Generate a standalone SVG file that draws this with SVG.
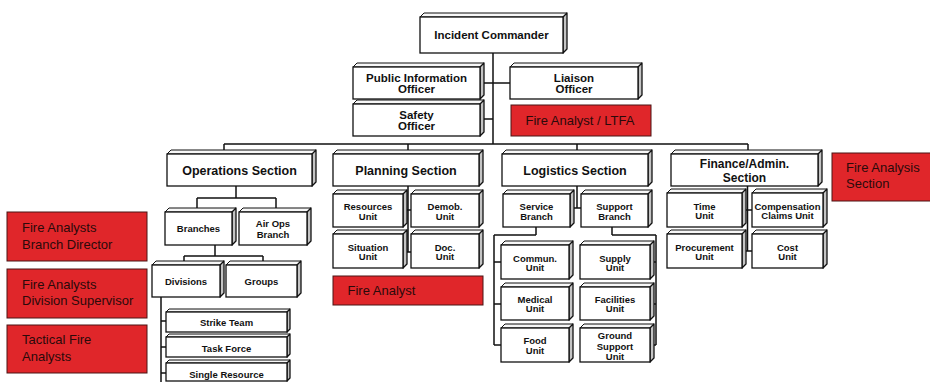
<svg xmlns="http://www.w3.org/2000/svg" width="930" height="382" viewBox="0 0 930 382">
<style>
.top{fill:#f7f7f7;stroke:#111;stroke-width:1;stroke-linejoin:round}
.side{fill:#c4c4c4;stroke:#111;stroke-width:1.3;stroke-linejoin:round}
.face{fill:#fff;stroke:#111;stroke-width:1.3}
.red{fill:#e0262a;stroke:#4a1414;stroke-width:1}
.t{font-family:"Liberation Sans",Arial,sans-serif;font-weight:bold;fill:#111;text-anchor:middle}
.s1{font-size:12.5px}
.s2{font-size:11.5px}
.s3{font-size:9.5px}
.rt{font-family:"Liberation Sans",Arial,sans-serif;font-size:13px;fill:#2b0a0a}
.c{fill:none;stroke:#111;stroke-width:1.5}
</style>
<rect width="930" height="382" fill="#fff"/>
<g id="connectors">
<path class="c" d="M493,53V144M480,83H510M480,119H493M224,144H748M224,144V150M408,144V150M577,144V150M748,144V150"/>
<path class="c" d="M236,186V198M197,198H276M197,198V208M276,198V208M215,245V256M184,256H263M184,256V261M263,256V261M161,297V382M161,321H166M161,347H166M161,373H166"/>
<path class="c" d="M408,186V252M403,210H411M403,252H411"/>
<path class="c" d="M577,186V208M570,208H581M536,227V235M494,235H536M494,235V345M494,262H501M494,304H501M494,345H501M612,227V235M612,235H656M656,235V345M650,262H656M650,304H656M650,345H656"/>
<path class="c" d="M747.5,186V251M742,210H752M742,251H752"/>
</g>
<g id="incident-commander"><polygon class="top" points="420,17 424,13 567,13 563,17"/><polygon class="side" points="563,17 567,13 567,49 563,53"/><rect class="face" x="420" y="17" width="143" height="36"/><text class="t s2" x="491.5" y="39">Incident Commander</text></g>
<g id="public-information-officer"><polygon class="top" points="353,67 357,63 484,63 480,67"/><polygon class="side" points="480,67 484,63 484,95 480,99"/><rect class="face" x="353" y="67" width="127" height="32"/><text class="t s2" x="416.5" y="81.7">Public Information</text><text class="t s2" x="416.5" y="93.4">Officer</text></g>
<g id="liaison-officer"><polygon class="top" points="510,67 514,63 642,63 638,67"/><polygon class="side" points="638,67 642,63 642,95 638,99"/><rect class="face" x="510" y="67" width="128" height="32"/><text class="t s2" x="574" y="81.7">Liaison</text><text class="t s2" x="574" y="93.4">Officer</text></g>
<g id="safety-officer"><polygon class="top" points="353,104 357,100 484,100 480,104"/><polygon class="side" points="480,104 484,100 484,132 480,136"/><rect class="face" x="353" y="104" width="127" height="32"/><text class="t s2" x="416.5" y="118.7">Safety</text><text class="t s2" x="416.5" y="130.4">Officer</text></g>
<g id="fire-analyst-ltfa"><rect class="red" x="511" y="105" width="140" height="31"/><text class="rt" x="525.5" y="124.5">Fire Analyst / LTFA</text></g>
<g id="operations-section"><polygon class="top" points="167,154 171,150 316,150 312,154"/><polygon class="side" points="312,154 316,150 316,182 312,186"/><rect class="face" x="167" y="154" width="145" height="32"/><text class="t s1" x="239.5" y="175">Operations Section</text></g>
<g id="planning-section"><polygon class="top" points="333,154 337,150 483,150 479,154"/><polygon class="side" points="479,154 483,150 483,182 479,186"/><rect class="face" x="333" y="154" width="146" height="32"/><text class="t s1" x="406" y="175">Planning Section</text></g>
<g id="logistics-section"><polygon class="top" points="502,154 506,150 652,150 648,154"/><polygon class="side" points="648,154 652,150 652,182 648,186"/><rect class="face" x="502" y="154" width="146" height="32"/><text class="t s1" x="575" y="175">Logistics Section</text></g>
<g id="finance-admin-section"><polygon class="top" points="671,154 675,150 822,150 818,154"/><polygon class="side" points="818,154 822,150 822,182 818,186"/><rect class="face" x="671" y="154" width="147" height="32"/><text class="t" style="font-size:12px" x="744.5" y="168">Finance/Admin.</text><text class="t" style="font-size:12px" x="744.5" y="181.5">Section</text></g>
<g id="fire-analysis-section"><rect class="red" x="832" y="153" width="100" height="48"/><text class="rt" x="846" y="171.7">Fire Analysis</text><text class="rt" x="846" y="188.3">Section</text></g>
<g id="branches"><polygon class="top" points="165,212 169,208 236,208 232,212"/><polygon class="side" points="232,212 236,208 236,241 232,245"/><rect class="face" x="165" y="212" width="67" height="33"/><text class="t s3" x="198.5" y="232">Branches</text></g>
<g id="air-ops-branch"><polygon class="top" points="239,212 243,208 311,208 307,212"/><polygon class="side" points="307,212 311,208 311,241 307,245"/><rect class="face" x="239" y="212" width="68" height="33"/><text class="t s3" x="273" y="227">Air Ops</text><text class="t s3" x="273" y="237.5">Branch</text></g>
<g id="divisions"><polygon class="top" points="152,265 156,261 224,261 220,265"/><polygon class="side" points="220,265 224,261 224,293 220,297"/><rect class="face" x="152" y="265" width="68" height="32"/><text class="t s3" x="186" y="284.5">Divisions</text></g>
<g id="groups"><polygon class="top" points="226,265 230,261 301,261 297,265"/><polygon class="side" points="297,265 301,261 301,293 297,297"/><rect class="face" x="226" y="265" width="71" height="32"/><text class="t s3" x="261.5" y="284.5">Groups</text></g>
<g id="strike-team"><polygon class="top" points="166,312 169,309 290,309 287,312"/><polygon class="side" points="287,312 290,309 290,329 287,332"/><rect class="face" x="166" y="312" width="121" height="20"/><text class="t s3" x="226.5" y="325.5">Strike Team</text></g>
<g id="task-force"><polygon class="top" points="166,337 169,334 290,334 287,337"/><polygon class="side" points="287,337 290,334 290,354 287,357"/><rect class="face" x="166" y="337" width="121" height="20"/><text class="t s3" x="226.5" y="351.5">Task Force</text></g>
<g id="single-resource"><polygon class="top" points="166,363 169,360 290,360 287,363"/><polygon class="side" points="287,363 290,360 290,378 287,381"/><rect class="face" x="166" y="363" width="121" height="18"/><text class="t s3" x="226.5" y="377.5">Single Resource</text></g>
<g id="resources-unit"><polygon class="top" points="333,194 337,190 407,190 403,194"/><polygon class="side" points="403,194 407,190 407,223 403,227"/><rect class="face" x="333" y="194" width="70" height="33"/><text class="t s3" x="368" y="210">Resources</text><text class="t s3" x="368" y="219.5">Unit</text></g>
<g id="demob-unit"><polygon class="top" points="411,194 415,190 483,190 479,194"/><polygon class="side" points="479,194 483,190 483,223 479,227"/><rect class="face" x="411" y="194" width="68" height="33"/><text class="t s3" x="445" y="210">Demob.</text><text class="t s3" x="445" y="219.5">Unit</text></g>
<g id="situation-unit"><polygon class="top" points="333,234 337,230 407,230 403,234"/><polygon class="side" points="403,234 407,230 407,264 403,268"/><rect class="face" x="333" y="234" width="70" height="34"/><text class="t s3" x="368" y="250.5">Situation</text><text class="t s3" x="368" y="260">Unit</text></g>
<g id="doc-unit"><polygon class="top" points="411,234 415,230 483,230 479,234"/><polygon class="side" points="479,234 483,230 483,264 479,268"/><rect class="face" x="411" y="234" width="68" height="34"/><text class="t s3" x="445" y="250.5">Doc.</text><text class="t s3" x="445" y="260">Unit</text></g>
<g id="fire-analyst"><rect class="red" x="333" y="276" width="150" height="29"/><text class="rt" x="347.5" y="294.5">Fire Analyst</text></g>
<g id="service-branch"><polygon class="top" points="503,194 507,190 574,190 570,194"/><polygon class="side" points="570,194 574,190 574,223 570,227"/><rect class="face" x="503" y="194" width="67" height="33"/><text class="t s3" x="536.5" y="210">Service</text><text class="t s3" x="536.5" y="219.5">Branch</text></g>
<g id="support-branch"><polygon class="top" points="581,194 585,190 652,190 648,194"/><polygon class="side" points="648,194 652,190 652,223 648,227"/><rect class="face" x="581" y="194" width="67" height="33"/><text class="t s3" x="614.5" y="210">Support</text><text class="t s3" x="614.5" y="219.5">Branch</text></g>
<g id="commun-unit"><polygon class="top" points="501,245 505,241 573,241 569,245"/><polygon class="side" points="569,245 573,241 573,275 569,279"/><rect class="face" x="501" y="245" width="68" height="34"/><text class="t s3" x="535" y="261.5">Commun.</text><text class="t s3" x="535" y="271">Unit</text></g>
<g id="medical-unit"><polygon class="top" points="501,287 505,283 573,283 569,287"/><polygon class="side" points="569,287 573,283 573,316 569,320"/><rect class="face" x="501" y="287" width="68" height="33"/><text class="t s3" x="535" y="302.5">Medical</text><text class="t s3" x="535" y="312">Unit</text></g>
<g id="food-unit"><polygon class="top" points="501,328 505,324 573,324 569,328"/><polygon class="side" points="569,328 573,324 573,358 569,362"/><rect class="face" x="501" y="328" width="68" height="34"/><text class="t s3" x="535" y="343.5">Food</text><text class="t s3" x="535" y="354">Unit</text></g>
<g id="supply-unit"><polygon class="top" points="580,245 584,241 654,241 650,245"/><polygon class="side" points="650,245 654,241 654,275 650,279"/><rect class="face" x="580" y="245" width="70" height="34"/><text class="t s3" x="615" y="261.5">Supply</text><text class="t s3" x="615" y="271">Unit</text></g>
<g id="facilities-unit"><polygon class="top" points="580,287 584,283 654,283 650,287"/><polygon class="side" points="650,287 654,283 654,316 650,320"/><rect class="face" x="580" y="287" width="70" height="33"/><text class="t s3" x="615" y="302.5">Facilities</text><text class="t s3" x="615" y="312">Unit</text></g>
<g id="ground-support-unit"><polygon class="top" points="580,328 584,324 654,324 650,328"/><polygon class="side" points="650,328 654,324 654,358 650,362"/><rect class="face" x="580" y="328" width="70" height="34"/><text class="t s3" x="615" y="339">Ground</text><text class="t s3" x="615" y="349.5">Support</text><text class="t s3" x="615" y="359.5">Unit</text></g>
<g id="time-unit"><polygon class="top" points="667,193 671,189 746,189 742,193"/><polygon class="side" points="742,193 746,189 746,223 742,227"/><rect class="face" x="667" y="193" width="75" height="34"/><text class="t s3" x="704.5" y="209.5">Time</text><text class="t s3" x="704.5" y="219">Unit</text></g>
<g id="compensation-claims-unit"><polygon class="top" points="752,193 756,189 827,189 823,193"/><polygon class="side" points="823,193 827,189 827,223 823,227"/><rect class="face" x="752" y="193" width="71" height="34"/><text class="t s3" x="787.5" y="209.5">Compensation</text><text class="t s3" x="787.5" y="219">Claims Unit</text></g>
<g id="procurement-unit"><polygon class="top" points="667,234 671,230 746,230 742,234"/><polygon class="side" points="742,234 746,230 746,264 742,268"/><rect class="face" x="667" y="234" width="75" height="34"/><text class="t s3" x="704.5" y="250.5">Procurement</text><text class="t s3" x="704.5" y="260">Unit</text></g>
<g id="cost-unit"><polygon class="top" points="752,234 756,230 827,230 823,234"/><polygon class="side" points="823,234 827,230 827,264 823,268"/><rect class="face" x="752" y="234" width="71" height="34"/><text class="t s3" x="787.5" y="250.5">Cost</text><text class="t s3" x="787.5" y="260">Unit</text></g>
<g id="fire-analysts-branch-director"><rect class="red" x="7" y="212" width="140" height="49"/><text class="rt" x="22" y="232">Fire Analysts</text><text class="rt" x="22" y="248.5">Branch Director</text></g>
<g id="fire-analysts-division-supervisor"><rect class="red" x="7" y="269" width="140" height="49"/><text class="rt" x="22" y="288.5">Fire Analysts</text><text class="rt" x="22" y="305">Division Supervisor</text></g>
<g id="tactical-fire-analysts"><rect class="red" x="7" y="325" width="140" height="48"/><text class="rt" x="22" y="343.5">Tactical Fire</text><text class="rt" x="22" y="361">Analysts</text></g>
</svg>
